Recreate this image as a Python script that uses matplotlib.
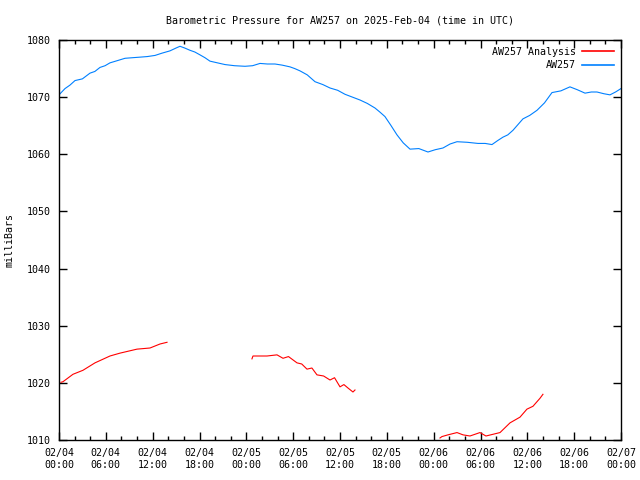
import datetime as dt
import numpy as np
import matplotlib
matplotlib.use("Agg")
import matplotlib.pyplot as plt
import matplotlib.dates as mdates

start = dt.datetime(2025, 2, 4, 0, 0)

# AW257 observed pressure (hours since start, mbar)
obs_hours = [0.0, 0.77, 1.4, 2.05, 3.0, 3.97, 4.6, 5.25, 5.9, 6.53, 7.5, 8.46, 9.4,
             10.38, 11.3, 12.3, 13.2, 14.22, 15.0, 15.5, 16.1, 16.78, 17.4, 18.06,
             18.7, 19.34, 20.3, 21.27, 22.5, 23.83, 24.8, 25.75, 26.7, 27.67, 28.6,
             29.59, 30.2, 30.87, 31.8, 32.8, 33.8, 34.72, 35.7, 36.64, 37.6, 38.56,
             39.5, 40.48, 41.1, 41.76, 42.5, 43.3, 44.1, 44.97, 46.1, 47.27, 48.2,
             49.19, 50.1, 50.99, 52.3, 53.68, 54.6, 55.47, 56.2, 56.88, 57.5, 58.16,
             58.8, 59.44, 60.3, 61.24, 62.2, 63.16, 64.3, 65.46, 66.4, 67.39, 68.2,
             68.92, 69.8, 70.59, 71.3, 72.0]
obs_vals = [1070.4, 1071.5, 1072.1, 1072.9, 1073.2, 1074.2, 1074.5, 1075.2, 1075.5,
            1076.0, 1076.4, 1076.8, 1076.9, 1077.0, 1077.1, 1077.3, 1077.7, 1078.1,
            1078.6, 1078.9, 1078.6, 1078.2, 1077.9, 1077.4, 1076.9, 1076.3, 1076.0,
            1075.7, 1075.5, 1075.4, 1075.5, 1075.9, 1075.8, 1075.8, 1075.6, 1075.3,
            1075.0, 1074.6, 1073.9, 1072.7, 1072.2, 1071.6, 1071.2, 1070.5, 1070.0,
            1069.5, 1068.9, 1068.1, 1067.4, 1066.6, 1065.1, 1063.4, 1062.0, 1060.9,
            1061.0, 1060.4, 1060.8, 1061.1, 1061.8, 1062.2, 1062.1, 1061.9, 1061.9,
            1061.7, 1062.4, 1063.0, 1063.4, 1064.2, 1065.2, 1066.2, 1066.8, 1067.7,
            1069.0, 1070.8, 1071.1, 1071.8, 1071.3, 1070.7, 1070.9, 1070.9, 1070.6,
            1070.4, 1070.9, 1071.5]

# AW257 Analysis (NaN splits the segments)
ana_hours = [0.26, 0.51, 1.79, 3.07, 4.61, 6.53, 7.81, 9.99, 11.66, 12.94, 13.84,
             13.9,
             24.72, 24.85, 26.65, 27.93, 28.7, 29.4, 30.49, 31.1, 31.77, 32.4, 33.05,
             33.9, 34.72, 35.3, 36.0, 36.5, 37.02, 37.66, 37.92,
             38.0,
             48.81, 49.06, 49.83, 50.99, 51.76, 52.65, 53.93, 54.7, 55.6, 56.5,
             57.78, 59.06, 59.95, 60.72, 61.62, 62.0]
ana_vals = [1020.1, 1020.2, 1021.5, 1022.2, 1023.5, 1024.7, 1025.2, 1025.9, 1026.1,
            1026.8, 1027.1,
            np.nan,
            1024.2, 1024.7, 1024.7, 1024.9, 1024.3, 1024.6, 1023.5, 1023.3, 1022.4,
            1022.6, 1021.4, 1021.2, 1020.5, 1020.9, 1019.3, 1019.7, 1019.1, 1018.4,
            1018.75,
            np.nan,
            1010.35, 1010.6, 1010.9, 1011.3, 1010.9, 1010.7, 1011.3, 1010.7, 1011.0,
            1011.3, 1013.0, 1014.0, 1015.4, 1015.9, 1017.3, 1018.0]

obs_t = [start + dt.timedelta(hours=h) for h in obs_hours]
ana_t = [start + dt.timedelta(hours=h) for h in ana_hours]

plt.rcParams['font.family'] = ['DejaVu Sans Mono']
plt.rcParams['font.size'] = 7.2

fig = plt.figure(figsize=(6.4, 4.8), dpi=100)
ax = fig.add_axes([59/640, 40/480, 562/640, 400/480])

ax.plot(ana_t, ana_vals, color='#ff0000', linewidth=0.8, label='AW257 Analysis')
ax.plot(obs_t, obs_vals, color='#0080ff', linewidth=0.8, label='AW257')

ax.set_xlim(start, start + dt.timedelta(hours=72))
ax.set_ylim(1010, 1080)
ax.set_yticks(range(1010, 1081, 10))
ax.xaxis.set_major_locator(mdates.HourLocator(byhour=range(0, 24, 6)))
ax.xaxis.set_minor_locator(mdates.HourLocator(byhour=range(0, 24, 2)))
ax.xaxis.set_major_formatter(mdates.DateFormatter('%m/%d\n%H:%M'))
ax.tick_params(which='both', direction='in', top=True, right=True, width=1)
ax.tick_params(which='major', length=6, pad=6)
ax.tick_params(which='minor', length=3)
for s in ax.spines.values():
    s.set_linewidth(1)

ax.set_ylabel('milliBars', labelpad=9)
ax.set_title('Barometric Pressure for AW257 on 2025-Feb-04 (time in UTC)',
             fontsize=7.2, pad=12)
leg = ax.legend(loc='upper right', frameon=False, markerfirst=False, handlelength=3.2,
                borderaxespad=0.3, labelspacing=0.35, handletextpad=0.6)
for line in leg.get_lines():
    line.set_linewidth(1.2)

fig.savefig('out.png', dpi=100)
